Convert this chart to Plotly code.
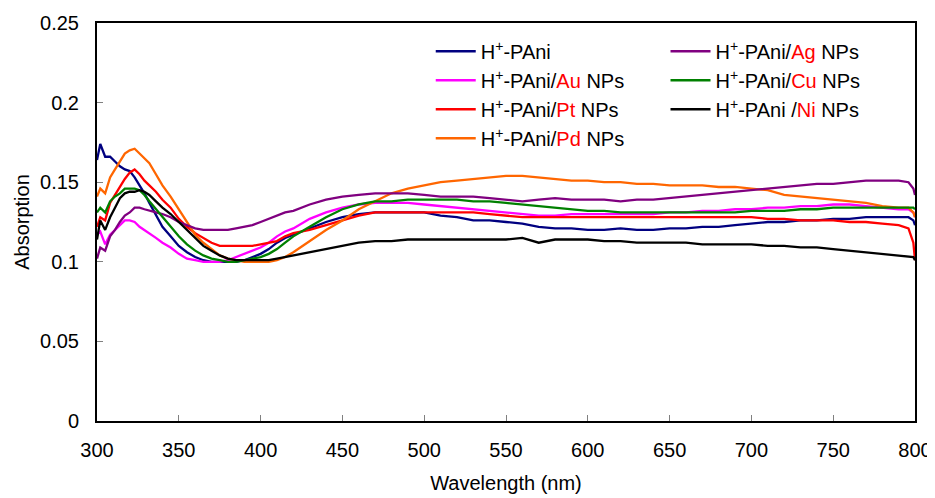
import plotly.graph_objects as go

wavelength = [300, 302, 305, 308, 311, 314, 317, 320, 323, 326,
              329, 332, 336, 340, 345, 350, 355, 360, 365, 370,
              375, 380, 385, 390, 395, 400, 405, 410, 415, 420,
              430, 440, 450, 460, 470, 480, 490, 500, 510, 520,
              530, 540, 550, 560, 570, 580, 590, 600, 610, 620,
              630, 640, 650, 660, 670, 680, 690, 700, 710, 720,
              730, 740, 750, 760, 770, 780, 790, 796, 799, 800]

pani = [0.164, 0.174, 0.166, 0.166, 0.163, 0.160, 0.158, 0.157, 0.153, 0.148,
        0.143, 0.137, 0.129, 0.122, 0.116, 0.110, 0.106, 0.103, 0.101, 0.100,
        0.100, 0.100, 0.100, 0.101, 0.103, 0.105, 0.108, 0.112, 0.115, 0.117,
        0.121, 0.125, 0.128, 0.130, 0.131, 0.131, 0.131, 0.131, 0.129, 0.128,
        0.126, 0.126, 0.125, 0.124, 0.122, 0.121, 0.121, 0.120, 0.120, 0.121,
        0.120, 0.120, 0.121, 0.121, 0.122, 0.122, 0.123, 0.124, 0.125, 0.125,
        0.126, 0.126, 0.127, 0.127, 0.128, 0.128, 0.128, 0.128, 0.126, 0.123]

au = [0.117, 0.119, 0.111, 0.117, 0.120, 0.123, 0.126, 0.126, 0.125, 0.122,
      0.120, 0.118, 0.115, 0.112, 0.109, 0.105, 0.102, 0.101, 0.100, 0.100,
      0.100, 0.101, 0.103, 0.105, 0.107, 0.109, 0.112, 0.116, 0.119, 0.121,
      0.127, 0.131, 0.134, 0.136, 0.137, 0.137, 0.137, 0.136, 0.135, 0.134,
      0.133, 0.132, 0.131, 0.130, 0.129, 0.129, 0.130, 0.130, 0.130, 0.130,
      0.130, 0.130, 0.131, 0.131, 0.132, 0.132, 0.133, 0.133, 0.134, 0.134,
      0.135, 0.135, 0.136, 0.136, 0.135, 0.134, 0.133, 0.133, 0.131, 0.128]

pt = [0.122, 0.128, 0.126, 0.137, 0.142, 0.147, 0.152, 0.156, 0.158, 0.155,
      0.151, 0.148, 0.144, 0.139, 0.134, 0.127, 0.122, 0.118, 0.115, 0.112,
      0.110, 0.110, 0.110, 0.110, 0.110, 0.111, 0.112, 0.113, 0.116, 0.118,
      0.120, 0.123, 0.126, 0.129, 0.131, 0.131, 0.131, 0.131, 0.131, 0.131,
      0.131, 0.130, 0.129, 0.128, 0.128, 0.128, 0.128, 0.128, 0.128, 0.128,
      0.128, 0.128, 0.128, 0.128, 0.128, 0.128, 0.128, 0.128, 0.127, 0.127,
      0.126, 0.126, 0.126, 0.125, 0.125, 0.124, 0.123, 0.121, 0.112, 0.101]

pd_ = [0.141, 0.146, 0.143, 0.153, 0.158, 0.163, 0.168, 0.170, 0.171, 0.168,
       0.165, 0.162, 0.155, 0.148, 0.141, 0.133, 0.125, 0.117, 0.112, 0.108,
       0.104, 0.102, 0.101, 0.100, 0.100, 0.100, 0.100, 0.101, 0.103, 0.106,
       0.113, 0.120, 0.126, 0.133, 0.138, 0.143, 0.146, 0.148, 0.150, 0.151,
       0.152, 0.153, 0.154, 0.154, 0.153, 0.152, 0.151, 0.151, 0.150, 0.150,
       0.149, 0.149, 0.148, 0.148, 0.148, 0.147, 0.147, 0.146, 0.145, 0.142,
       0.141, 0.140, 0.139, 0.138, 0.137, 0.135, 0.134, 0.134, 0.131, 0.128]

ag = [0.102, 0.109, 0.107, 0.116, 0.120, 0.125, 0.129, 0.131, 0.134, 0.134,
      0.133, 0.132, 0.131, 0.130, 0.128, 0.125, 0.123, 0.121, 0.120, 0.120,
      0.120, 0.120, 0.121, 0.122, 0.123, 0.125, 0.127, 0.129, 0.131, 0.132,
      0.136, 0.139, 0.141, 0.142, 0.143, 0.143, 0.143, 0.142, 0.141, 0.141,
      0.141, 0.140, 0.139, 0.138, 0.139, 0.140, 0.139, 0.139, 0.139, 0.138,
      0.139, 0.139, 0.140, 0.141, 0.142, 0.143, 0.144, 0.145, 0.146, 0.147,
      0.148, 0.149, 0.149, 0.150, 0.151, 0.151, 0.151, 0.150, 0.146, 0.142]

cu = [0.131, 0.134, 0.131, 0.138, 0.141, 0.143, 0.146, 0.146, 0.146, 0.145,
      0.142, 0.138, 0.133, 0.128, 0.122, 0.116, 0.111, 0.107, 0.104, 0.102,
      0.101, 0.100, 0.100, 0.101, 0.102, 0.103, 0.105, 0.108, 0.112, 0.116,
      0.122, 0.128, 0.133, 0.136, 0.138, 0.138, 0.139, 0.139, 0.139, 0.139,
      0.138, 0.138, 0.137, 0.136, 0.135, 0.134, 0.133, 0.132, 0.132, 0.131,
      0.131, 0.131, 0.131, 0.131, 0.131, 0.131, 0.131, 0.132, 0.132, 0.132,
      0.133, 0.133, 0.134, 0.134, 0.134, 0.134, 0.134, 0.134, 0.134, 0.133]

ni = [0.114, 0.126, 0.120, 0.128, 0.134, 0.140, 0.143, 0.144, 0.144, 0.145,
      0.144, 0.142, 0.138, 0.134, 0.130, 0.125, 0.120, 0.115, 0.110, 0.107,
      0.104, 0.102, 0.101, 0.101, 0.101, 0.101, 0.101, 0.102, 0.103, 0.104,
      0.106, 0.108, 0.110, 0.112, 0.113, 0.113, 0.114, 0.114, 0.114, 0.114,
      0.114, 0.114, 0.114, 0.115, 0.112, 0.114, 0.114, 0.114, 0.113, 0.113,
      0.112, 0.112, 0.112, 0.112, 0.111, 0.111, 0.111, 0.111, 0.110, 0.110,
      0.109, 0.109, 0.108, 0.107, 0.106, 0.105, 0.104, 0.103, 0.103, 0.101]

x_ticks = [300, 350, 400, 450, 500, 550, 600, 650, 700, 750, 800]
y_ticks = [0, 0.05, 0.1, 0.15, 0.2, 0.25]
y_tick_labels = ["0", "0.05", "0.1", "0.15", "0.2", "0.25"]


def name(metal, spacer=""):
    base = "H<sup>+</sup>-PAni"
    if metal is None:
        return base
    return base + spacer + "/<span style='color:#FF0000'>" + metal + "</span> NPs"


series = [
    (pani, name(None), "#000080", "legend"),
    (au, name("Au"), "#FF00FF", "legend"),
    (pt, name("Pt"), "#FF0000", "legend"),
    (pd_, name("Pd"), "#FF6600", "legend"),
    (ag, name("Ag"), "#800080", "legend2"),
    (cu, name("Cu"), "#008000", "legend2"),
    (ni, name("Ni", " "), "#000000", "legend2"),
]

fig = go.Figure()
for ys, nm, col, lg in series:
    fig.add_trace(go.Scatter(x=wavelength, y=ys, mode="lines", name=nm,
                             line=dict(color=col, width=2.3), legend=lg))

font_family = "Arial, Liberation Sans, sans-serif"
FS = 20
leg_common = dict(font=dict(family=font_family, size=FS, color="#000000"),
                  bgcolor="rgba(0,0,0,0)", borderwidth=0, tracegroupgap=0,
                  xanchor="left", yanchor="top", itemwidth=40)

# the page body adds an 8px offset, so margins are set 8px smaller on top/left
fig.update_layout(
    width=935, height=498,
    margin=dict(l=89, r=28, t=15, b=85, autoexpand=False),
    paper_bgcolor="white", plot_bgcolor="white",
    font=dict(family=font_family, size=FS, color="#000000"),
    legend=dict(x=0.408, y=0.978, **leg_common),
    legend2=dict(x=0.695, y=0.978, **leg_common),
    xaxis=dict(range=[300, 800], tickvals=x_ticks, ticks="inside", ticklen=6,
               tickcolor="#808080", tickwidth=1, automargin=False,
               showline=True, linecolor="#000000", linewidth=2, mirror=True,
               showgrid=False, zeroline=False,
               ticklabelstandoff=10,
               title=dict(text="Wavelength (nm)", standoff=16,
                          font=dict(size=FS))),
    yaxis=dict(range=[0, 0.25], tickvals=y_ticks, ticktext=y_tick_labels,
               ticks="inside", ticklen=6, tickcolor="#808080", tickwidth=1,
               automargin=False,
               showline=True, linecolor="#000000", linewidth=2, mirror=True,
               showgrid=False, zeroline=False,
               ticklabelstandoff=12,
               title=dict(text="Absorption", standoff=5,
                          font=dict(size=FS))),
)

fig.write_html("out.html")
